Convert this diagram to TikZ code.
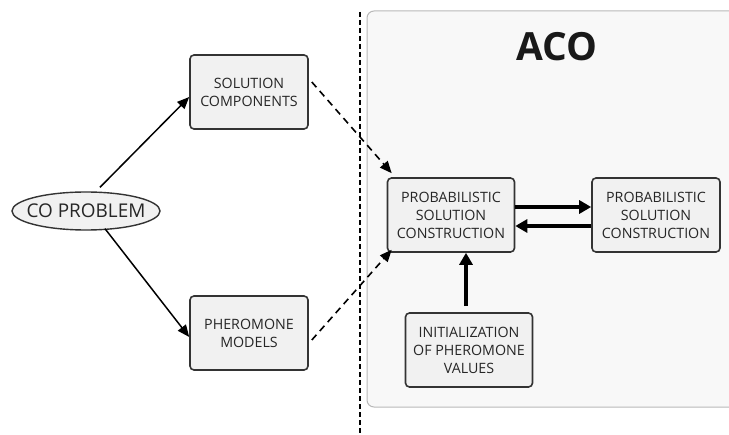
\documentclass[tikz,border=0pt]{standalone}
\usepackage{fontspec}
\setmainfont{Open Sans}
\usetikzlibrary{arrows.meta,shapes.geometric}
\definecolor{boxline}{HTML}{333333}
\definecolor{boxfill}{HTML}{F1F1F1}
\definecolor{contfill}{HTML}{F8F8F8}
\definecolor{txt}{HTML}{262626}
\tikzset{
  procbox/.style={draw=boxline, fill=boxfill, line width=1.6bp, rounded corners=4bp,
    minimum width=#1, minimum height=74bp, inner sep=0pt, align=center,
    font=\fontsize{14.3}{18}\selectfont, text=txt},
  procbox/.default=118bp,
  thinarr/.style={line width=1.5bp, -{Triangle[length=12bp,width=10bp]}},
  dasharr/.style={line width=1.6bp, dash pattern=on 7bp off 5bp, -{Triangle[length=12bp,width=10bp]}},
  thickarr/.style={line width=3.5bp, -{Triangle[length=12bp,width=13bp]}}
}
\begin{document}
\begin{tikzpicture}[x=1bp,y=-1bp]
\useasboundingbox[fill=white] (0,0) rectangle (729,435);
% container
\draw[draw=gray!55, fill=contfill, line width=1bp, rounded corners=7bp] (367,11) rectangle (745,407);
% divider
\draw[line width=1.1bp, dash pattern=on 5bp off 3bp] (360,12) -- (360,435);
\node[font=\fontsize{39}{39}\bfseries\selectfont, text=black!90] (aco) at (557,47) {ACO};
% nodes
\node[draw=boxline, fill=boxfill, line width=1.4bp, ellipse, minimum width=148bp, minimum height=38bp,
  inner sep=0pt, font=\fontsize{19}{19}\selectfont, text=txt] (co) at (86,211) {\makebox[0pt]{CO PROBLEM}};
\node[procbox] (sc) at (249,92) {SOLUTION\\COMPONENTS};
\node[procbox] (pm) at (249,333) {PHEROMONE\\MODELS};
\node[procbox=127bp] (p1) at (451,215) {PROBABILISTIC\\SOLUTION\\CONSTRUCTION};
\node[procbox=128bp] (p2) at (656,215) {PROBABILISTIC\\SOLUTION\\CONSTRUCTION};
\node[procbox=127bp] (init) at (469,350) {INITIALIZATION\\OF PHEROMONE\\VALUES};
% connectors
\draw[thinarr] ([xshift=14bp,yshift=4bp]co.north) -- ([yshift=-5bp]sc.west);
\draw[thinarr] ([xshift=19bp,yshift=2bp]co.south) -- ([yshift=-4bp]pm.west);
\draw[dasharr] ([xshift=3bp,yshift=10bp]sc.east) -- ([xshift=5bp,yshift=4bp]p1.north west);
\draw[dasharr] ([xshift=3bp,yshift=-7bp]pm.east) -- ([xshift=5bp,yshift=3bp]p1.south west);
\draw[thickarr] ([yshift=8bp]p1.east) -- ([yshift=8bp]p2.west);
\draw[thickarr] ([yshift=-11bp]p2.west) -- ([yshift=-11bp]p1.east);
\coordinate (ia) at ([xshift=-3bp,yshift=6bp]init.north);
\draw[thickarr] (ia) -- (ia |- p1.south);
\end{tikzpicture}
\end{document}
